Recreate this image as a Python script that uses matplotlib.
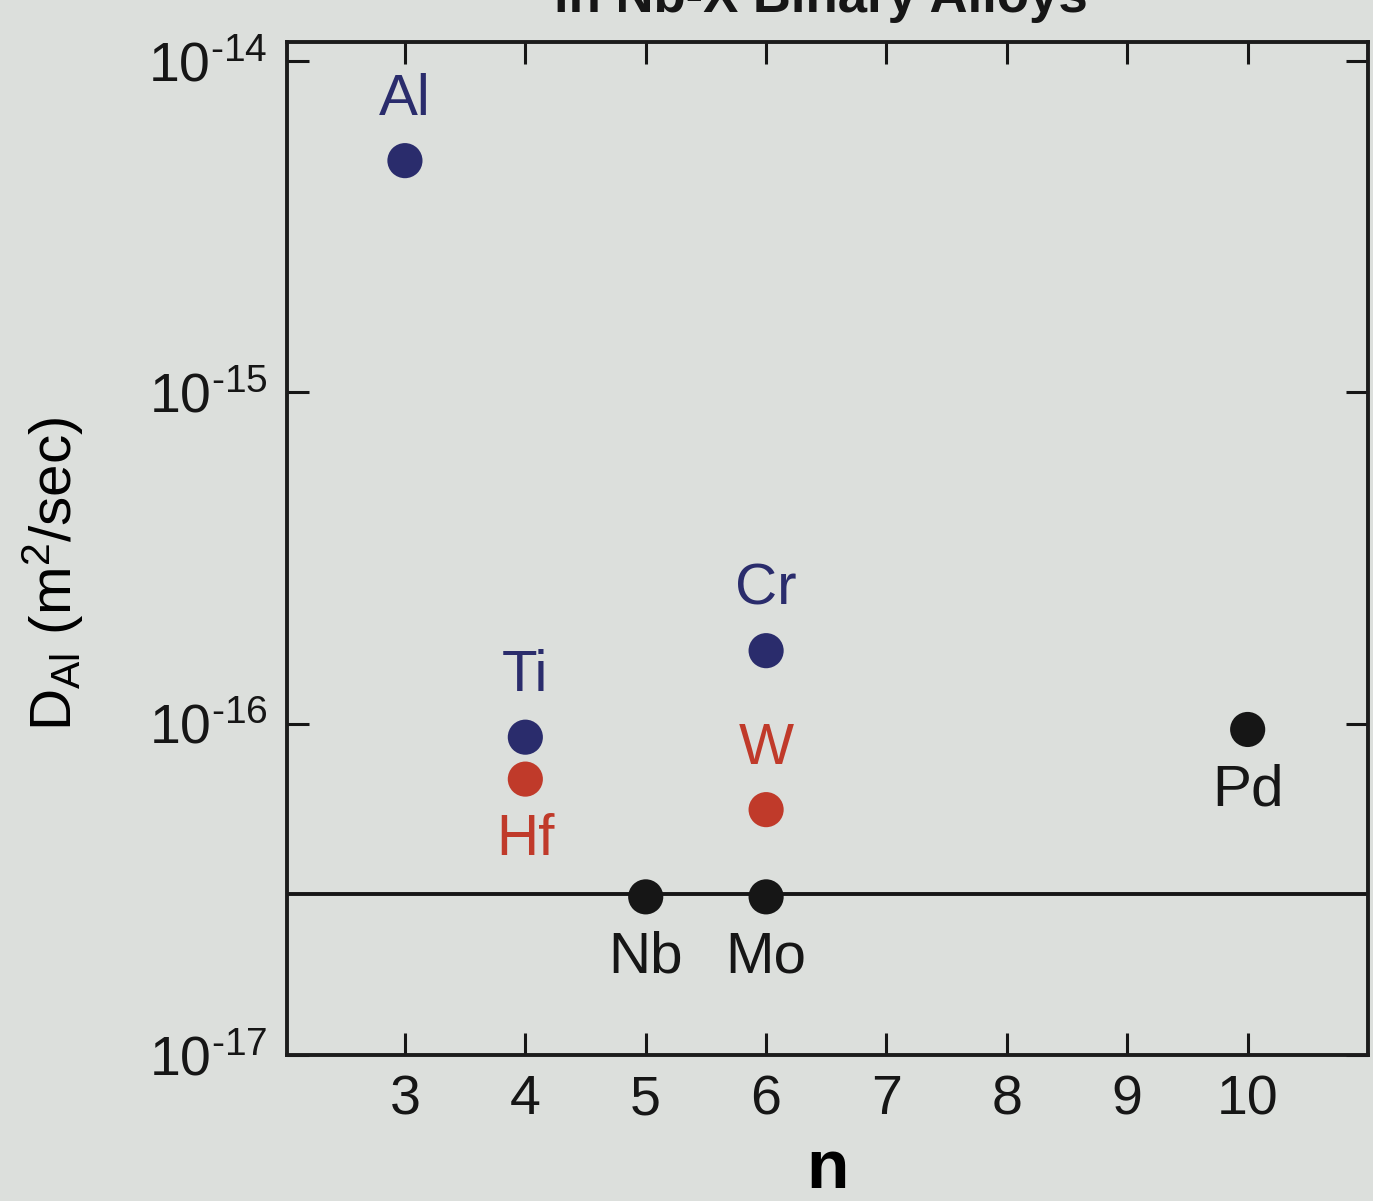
import math
import matplotlib
matplotlib.use("Agg")
import matplotlib.pyplot as plt
from matplotlib.ticker import FixedLocator, NullLocator, FuncFormatter

plt.rcParams['font.family'] = ['Liberation Sans', 'DejaVu Sans']
plt.rcParams['mathtext.fontset'] = 'custom'
plt.rcParams['mathtext.rm'] = 'Liberation Sans'
plt.rcParams['mathtext.it'] = 'Liberation Sans'

# data
elements = ['Al', 'Ti', 'Hf', 'Cr', 'W', 'Nb', 'Mo', 'Pd']
n_values = [3, 4, 4, 6, 6, 5, 6, 10]
d_al = [5.0e-15, 9.1e-17, 6.8e-17, 1.66e-16, 5.5e-17, 3.0e-17, 3.0e-17, 9.6e-17]
groups = ['blue', 'blue', 'red', 'blue', 'red', 'black', 'black', 'black']
label_side = ['above', 'above', 'below', 'above', 'above', 'below', 'below', 'below']
nb_level = 3.05e-17

colors = {'blue': '#2a2c6c', 'red': '#c03a2a', 'black': '#161616'}
bg = '#dcdfdc'

fig = plt.figure(figsize=(13.73, 12.01), dpi=100, facecolor=bg)
ax = fig.add_axes([0.209, 0.1216, 0.7874, 0.8434])
ax.set_facecolor(bg)

ax.axhline(nb_level, color='#161616', lw=2.8, zorder=1)

for el, x, y, g, side in zip(elements, n_values, d_al, groups, label_side):
    c = colors[g]
    ax.scatter([x], [y], s=640, color=c, zorder=3, edgecolors='none')
    dy = 44 if side == 'above' else -44
    ax.annotate(el, (x, y), xytext=(0, dy), textcoords='offset points',
                ha='center', va='center', fontsize=42, color=c)

ax.set_yscale('log')
ax.set_xlim(2.02, 11.0)
ax.set_ylim(1e-17, 1.14e-14)

ax.xaxis.set_major_locator(FixedLocator([3, 4, 5, 6, 7, 8, 9, 10]))
ax.yaxis.set_major_locator(FixedLocator([1e-17, 1e-16, 1e-15, 1e-14]))
ax.yaxis.set_minor_locator(NullLocator())
ax.xaxis.set_minor_locator(NullLocator())


def decade(v, pos):
    e = -round(math.log10(v))
    return r'$\mathregular{10^{\text{-}%d}}$' % e


ax.yaxis.set_major_formatter(FuncFormatter(decade))

ax.tick_params(direction='in', length=16, width=2.2, top=True, right=True,
               labelsize=40, colors='#161616', pad=14)
for s in ax.spines.values():
    s.set_linewidth(2.8)
    s.set_color('#1c1c1c')

ax.set_xlabel('n', fontsize=50, fontweight='bold', labelpad=8)
ax.set_ylabel(r'D$_{\mathregular{Al}}$ (m$^{\mathregular{2}}$/sec)', fontsize=42)
ax.yaxis.set_label_coords(-0.186, 0.475)

fig.text(0.598, 1 - 12 / 1201, 'in Nb-X Binary Alloys', ha='center', va='baseline',
         fontsize=38, fontweight='bold', color='#161616')

fig.savefig('out.png', dpi=100, facecolor=bg)
